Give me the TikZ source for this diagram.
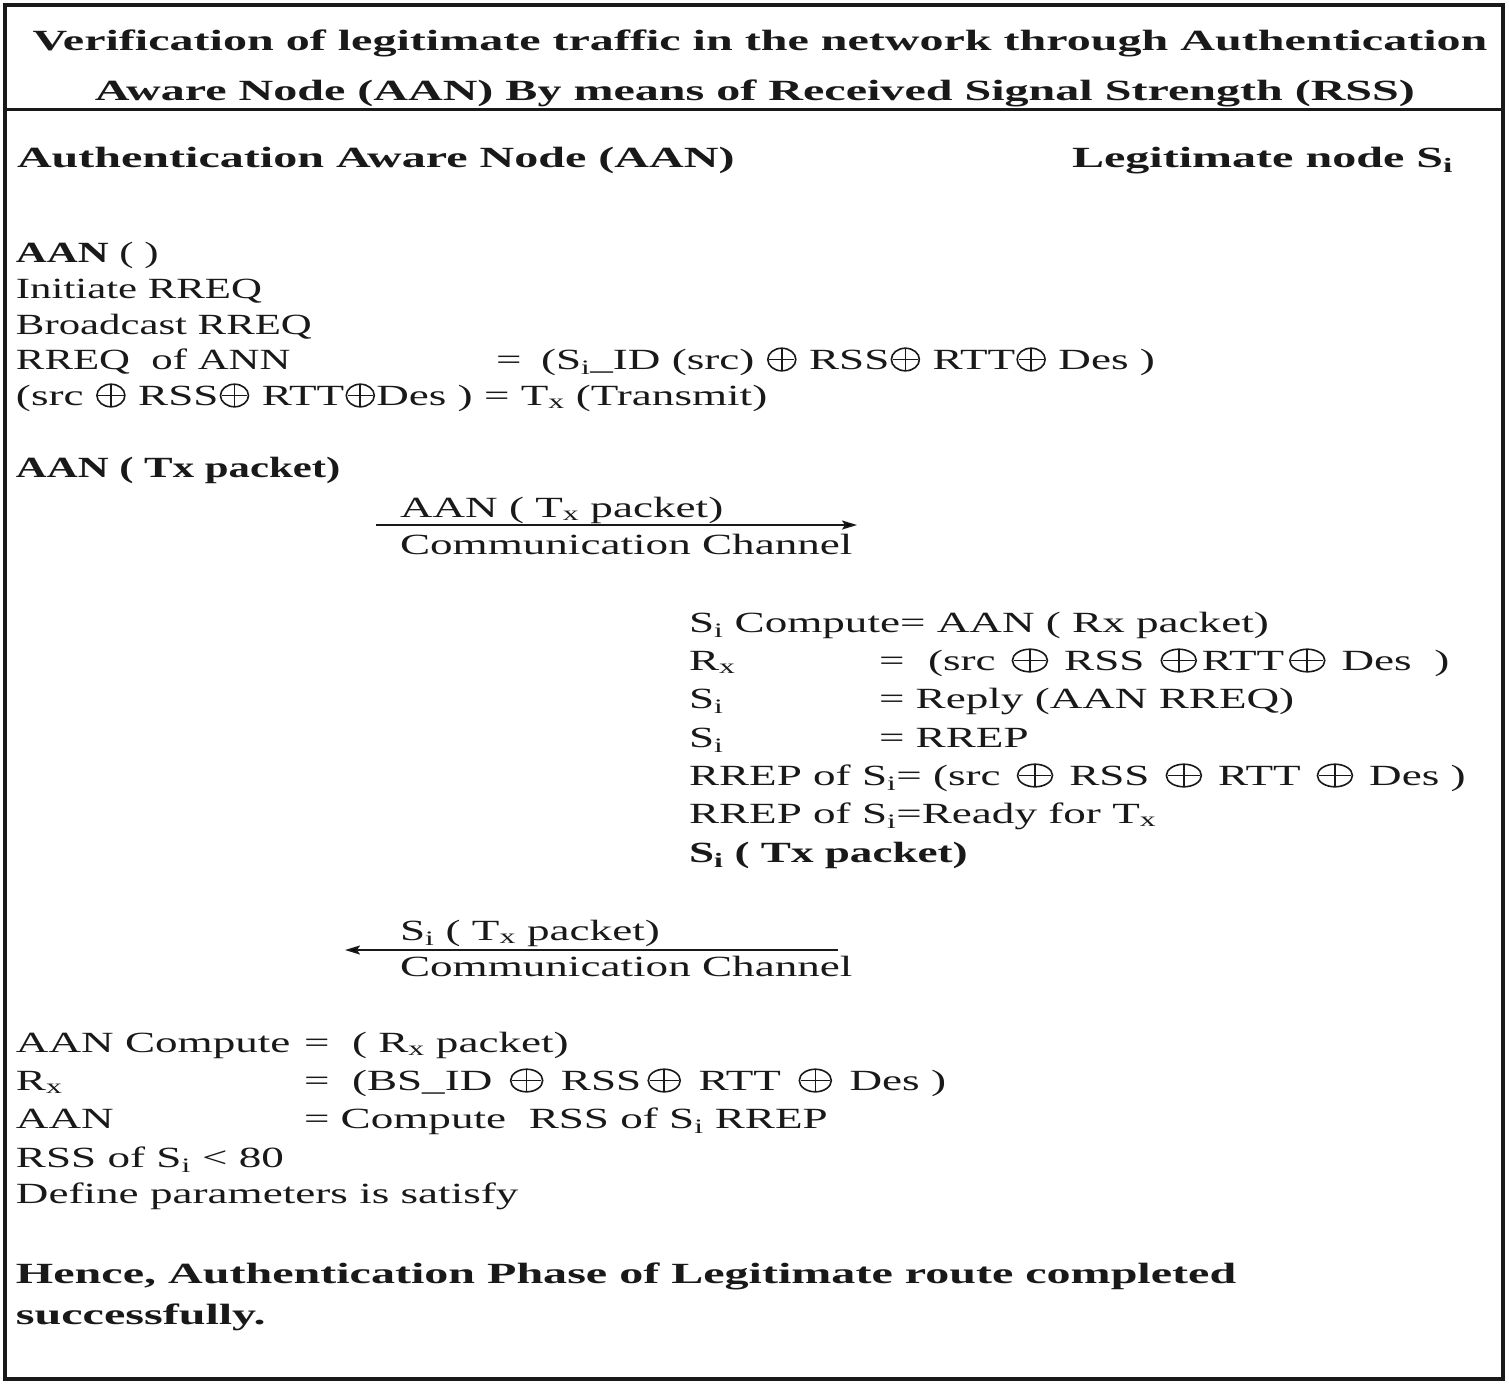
\documentclass[tikz,border=0pt]{standalone}
\usepackage{fontspec}
\setmainfont[FakeStretch=1.54]{Liberation Serif}
\newfontfamily\narrowfam[FakeStretch=1.46]{Liberation Serif}
\newfontfamily\widefam[FakeStretch=1.64]{Liberation Serif}
\usepackage{graphicx}
\usetikzlibrary{arrows.meta}
% circled plus: #1 = circle width, #2 = box width (pt = px)
\newcommand{\opx}[2]{\tikz[baseline=0pt,x=1pt,y=1pt]{%
  \useasboundingbox (0,-2) rectangle (#2,21);
  \draw[line width=1.6pt, black!90] ({#2/2},9.5) ellipse [x radius={#1/2}, y radius=11.3];
  \draw[line width=1.6pt, black!90] ({#2/2-#1/2+1.4},9.5) -- ({#2/2+#1/2-1.4},9.5) ({#2/2},-1.8) -- ({#2/2},20.8);}}
\newcommand{\op}{\opx{28}{32}}
\newcommand{\opw}{\opx{35}{46}}
\newcommand{\sbs}[1]{\textsubscript{#1}}
\newcommand{\bodyfont}{\fontsize{29.3}{36}\selectfont}
\begin{document}
\begin{tikzpicture}[x=1pt,y=-1pt,
  txt/.style={anchor=base west, inner sep=0pt, outer sep=0pt, font=\bodyfont, text=black!90},
  btxt/.style={txt, font=\bodyfont\bfseries},
  ntxt/.style={txt, font=\bodyfont\narrowfam},
  nbtxt/.style={txt, font=\bodyfont\narrowfam\bfseries},
  wtxt/.style={txt, font=\bodyfont\widefam\bfseries},
  ctr/.style={anchor=base, inner sep=0pt, outer sep=0pt, font=\bodyfont\widefam\bfseries, text=black!90},
  frame/.style={line width=4.5pt, draw=black!90},
  sepline/.style={line width=3pt, draw=black!90},
  msg/.style={line width=1.8pt, draw=black!90, -{Stealth[length=15pt,width=9pt,inset=3pt]}}]
\useasboundingbox (0,0) rectangle (1509,1385);
\draw[frame] (5,5) rectangle (1503,1379);
\coordinate (sepL) at (5,109);
\coordinate (sepR) at (1503,109);
\draw[sepline] (sepL) -- (sepR);

% title
\node[ctr] (t1) at (760,50) {Verification of legitimate traffic in the network through Authentication};
\node[ctr] (t2) at (755,100) {Aware Node (AAN) By means of Received Signal Strength (RSS)};

% column heads
\node[wtxt] (hL) at (17,167) {Authentication Aware Node (AAN)};
\node[wtxt] (hR) at (1072,167) {Legitimate node S\sbs{i}};

% AAN block
\node[ntxt] (l1) at (16,262) {\textbf{AAN} ( )};
\node[ntxt] (l2) at (16,298) {Initiate RREQ};
\node[ntxt] (l3) at (16,334) {Broadcast RREQ};
\node[ntxt] (l4) at (16,369) {RREQ\ \ of ANN};
\node[txt] (l4e) at (496,369) {=};
\node[txt] (l4r) at (541,369) {(S\sbs{i}\_ID (src) \op{} RSS\op{} RTT\op{} Des )};
\node[txt] (l5) at (16,405) {(src \op{} RSS\op{} RTT\op{}Des ) = T\sbs{x} (Transmit)};
\node[nbtxt] (l6) at (16,477) {AAN ( Tx packet)};

% first message
\coordinate (a1s) at (376,525);
\coordinate (a1e) at (857,525);
\draw[msg] (a1s) -- (a1e);
\node[txt] (a1t) at (400,517) {AAN ( T\sbs{x} packet)};
\node[txt] (a1b) at (400,554) {Communication Channel};

% Si block
\node[txt] (r1) at (689,632) {S\sbs{i} Compute= AAN ( Rx packet)};
\node[txt] (r2) at (689,670) {R\sbs{x}};
\node[txt] (r2e) at (879,670) {=};
\node[txt] (r2r) at (928,670) {(src \opw{} RSS \opw{}RTT\opw{} Des\ \ )};
\node[txt] (r3) at (689,708) {S\sbs{i}};
\node[txt] (r3r) at (879,708) {= Reply (AAN RREQ)};
\node[txt] (r4) at (689,747) {S\sbs{i}};
\node[txt] (r4r) at (879,747) {= RREP};
\node[txt] (r5) at (689,785) {RREP of S\sbs{i}= (src \opw{} RSS \opw{} RTT \opw{} Des )};
\node[txt] (r6) at (689,823) {RREP of S\sbs{i}=Ready for T\sbs{x}};
\node[btxt] (r7) at (689,862) {S\sbs{i} ( Tx packet)};

% second message
\coordinate (a2s) at (838,950);
\coordinate (a2e) at (345,950);
\draw[msg] (a2s) -- (a2e);
\node[txt] (a2t) at (400,940) {S\sbs{i} ( T\sbs{x} packet)};
\node[txt] (a2b) at (400,976) {Communication Channel};

% AAN compute block
\node[txt] (b1) at (16,1052) {AAN Compute};
\node[txt] (b1e) at (304,1052) {=};
\node[txt] (b1r) at (352,1052) {( R\sbs{x} packet)};
\node[txt] (b2) at (16,1090) {R\sbs{x}};
\node[txt] (b2e) at (304,1090) {=};
\node[txt] (b2r) at (352,1090) {(BS\_ID \opx{32}{46} RSS\opx{32}{46} RTT \opx{32}{46} Des )};
\node[txt] (b3) at (16,1128) {AAN};
\node[txt] (b3r) at (304,1128) {= Compute\ \ RSS of S\sbs{i} RREP};
\node[txt] (b4) at (16,1167) {RSS of S\sbs{i} < 80};
\node[txt] (b5) at (16,1203) {Define parameters is satisfy};

% conclusion
\node[wtxt] (c1) at (16,1283) {Hence, Authentication Phase of Legitimate route completed};
\node[wtxt] (c2) at (16,1324) {successfully.};
\end{tikzpicture}
\end{document}
